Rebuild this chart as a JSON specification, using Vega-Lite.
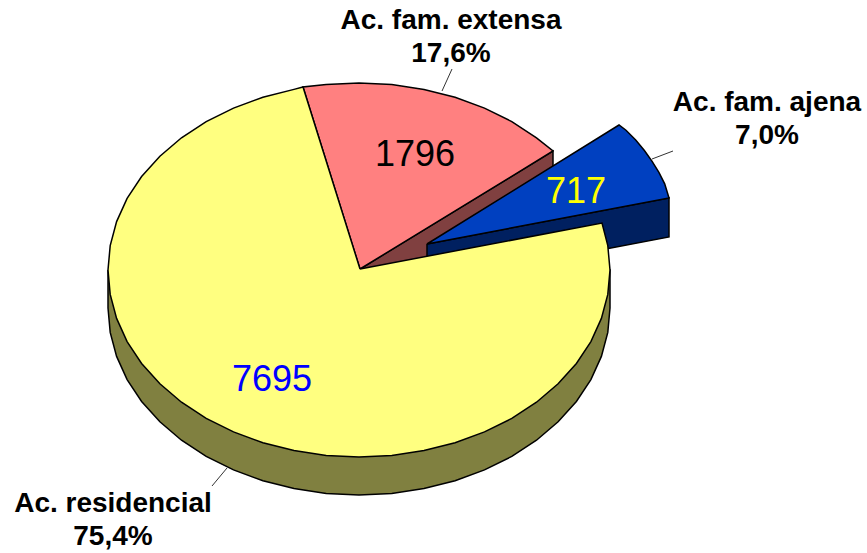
{"$schema":"https://vega.github.io/schema/vega-lite/v6.json","width":867,"height":553,"autosize":{"type":"none"},"padding":0,"background":"white","config":{"view":{"stroke":null}},
"datasets":{
"slices":[
{"category":"Ac. residencial","count":7695,"label":"Ac. residencial\n75,4%","cx":-87,"cy":-110,"lx":-246,"ly":-234},
{"category":"Ac. fam. extensa","count":1796,"label":"Ac. fam. extensa\n17,6%","cx":56,"cy":115,"lx":92,"ly":249},
{"category":"Ac. fam. ajena","count":717,"label":"Ac. fam. ajena\n7,0%","cx":217,"cy":78,"lx":408,"ly":167}],
"leaders":[
{"category":"Ac. fam. extensa","i":0,"x":83,"y":179},{"category":"Ac. fam. extensa","i":1,"x":93,"y":201},
{"category":"Ac. fam. ajena","i":0,"x":293,"y":111},{"category":"Ac. fam. ajena","i":1,"x":314,"y":119},
{"category":"Ac. residencial","i":0,"x":-132,"y":-198},{"category":"Ac. residencial","i":1,"x":-147,"y":-216}],
"faces":[
{"part":"extensa side","i":0,"x":1,"y":1},{"part":"extensa side","i":1,"x":194,"y":119},{"part":"extensa side","i":2,"x":194,"y":81},{"part":"extensa side","i":3,"x":1,"y":-37},{"part":"extensa side","i":4,"x":1,"y":1},
{"part":"ajena side","i":0,"x":68,"y":26},{"part":"ajena side","i":1,"x":310,"y":72},{"part":"ajena side","i":2,"x":310,"y":33},{"part":"ajena side","i":3,"x":68,"y":-13},{"part":"ajena side","i":4,"x":68,"y":26},
{"part":"ajena top","i":0,"x":68,"y":26},{"part":"ajena top","i":1,"x":260,"y":145},{"part":"ajena top","i":2,"x":267,"y":139.8},{"part":"ajena top","i":3,"x":276.7,"y":129.9},{"part":"ajena top","i":4,"x":285.4,"y":119.5},{"part":"ajena top","i":5,"x":293.1,"y":108.7},{"part":"ajena top","i":6,"x":299.9,"y":97.6},{"part":"ajena top","i":7,"x":305.7,"y":86.1},{"part":"ajena top","i":8,"x":310,"y":72},{"part":"ajena top","i":9,"x":68,"y":26},
{"part":"extensa top","i":0,"x":1,"y":1},{"part":"extensa top","i":1,"x":194,"y":119},{"part":"extensa top","i":2,"x":177.5,"y":132.2},{"part":"extensa top","i":3,"x":152.8,"y":148.4},{"part":"extensa top","i":4,"x":125.5,"y":161.9},{"part":"extensa top","i":5,"x":96.1,"y":172.8},{"part":"extensa top","i":6,"x":65,"y":180.6},{"part":"extensa top","i":7,"x":32.8,"y":185.4},{"part":"extensa top","i":8,"x":0,"y":187},{"part":"extensa top","i":9,"x":-32.8,"y":185.4},{"part":"extensa top","i":10,"x":-56,"y":183},{"part":"extensa top","i":11,"x":1,"y":1},
{"part":"residencial side","i":0,"x":-251,"y":0},{"part":"residencial side","i":1,"x":-251,"y":-38},{"part":"residencial side","i":2,"x":-248.8,"y":-62.4},{"part":"residencial side","i":3,"x":-242.4,"y":-86.4},{"part":"residencial side","i":4,"x":-231.9,"y":-109.6},{"part":"residencial side","i":5,"x":-217.4,"y":-131.5},{"part":"residencial side","i":6,"x":-199.1,"y":-151.8},{"part":"residencial side","i":7,"x":-177.5,"y":-170.2},{"part":"residencial side","i":8,"x":-152.8,"y":-186.4},{"part":"residencial side","i":9,"x":-125.5,"y":-199.9},{"part":"residencial side","i":10,"x":-96.1,"y":-210.8},{"part":"residencial side","i":11,"x":-65,"y":-218.6},{"part":"residencial side","i":12,"x":-32.8,"y":-223.4},{"part":"residencial side","i":13,"x":0,"y":-225},{"part":"residencial side","i":14,"x":32.8,"y":-223.4},{"part":"residencial side","i":15,"x":65,"y":-218.6},{"part":"residencial side","i":16,"x":96.1,"y":-210.8},{"part":"residencial side","i":17,"x":125.5,"y":-199.9},{"part":"residencial side","i":18,"x":152.8,"y":-186.4},{"part":"residencial side","i":19,"x":177.5,"y":-170.2},{"part":"residencial side","i":20,"x":199.1,"y":-151.8},{"part":"residencial side","i":21,"x":217.4,"y":-131.5},{"part":"residencial side","i":22,"x":231.9,"y":-109.6},{"part":"residencial side","i":23,"x":242.4,"y":-86.4},{"part":"residencial side","i":24,"x":248.8,"y":-62.4},{"part":"residencial side","i":25,"x":251,"y":-38},{"part":"residencial side","i":26,"x":251,"y":0},{"part":"residencial side","i":27,"x":-251,"y":0},
{"part":"residencial top","i":0,"x":1,"y":1},{"part":"residencial top","i":1,"x":-56,"y":183},{"part":"residencial top","i":2,"x":-65,"y":180.6},{"part":"residencial top","i":3,"x":-96.1,"y":172.8},{"part":"residencial top","i":4,"x":-125.5,"y":161.9},{"part":"residencial top","i":5,"x":-152.8,"y":148.4},{"part":"residencial top","i":6,"x":-177.5,"y":132.2},{"part":"residencial top","i":7,"x":-199.1,"y":113.8},{"part":"residencial top","i":8,"x":-217.4,"y":93.5},{"part":"residencial top","i":9,"x":-231.9,"y":71.6},{"part":"residencial top","i":10,"x":-242.4,"y":48.4},{"part":"residencial top","i":11,"x":-248.8,"y":24.4},{"part":"residencial top","i":12,"x":-251,"y":0},{"part":"residencial top","i":13,"x":-248.8,"y":-24.4},{"part":"residencial top","i":14,"x":-242.4,"y":-48.4},{"part":"residencial top","i":15,"x":-231.9,"y":-71.6},{"part":"residencial top","i":16,"x":-217.4,"y":-93.5},{"part":"residencial top","i":17,"x":-199.1,"y":-113.8},{"part":"residencial top","i":18,"x":-177.5,"y":-132.2},{"part":"residencial top","i":19,"x":-152.8,"y":-148.4},{"part":"residencial top","i":20,"x":-125.5,"y":-161.9},{"part":"residencial top","i":21,"x":-96.1,"y":-172.8},{"part":"residencial top","i":22,"x":-65,"y":-180.6},{"part":"residencial top","i":23,"x":-32.8,"y":-185.4},{"part":"residencial top","i":24,"x":0,"y":-187},{"part":"residencial top","i":25,"x":32.8,"y":-185.4},{"part":"residencial top","i":26,"x":65,"y":-180.6},{"part":"residencial top","i":27,"x":96.1,"y":-172.8},{"part":"residencial top","i":28,"x":125.5,"y":-161.9},{"part":"residencial top","i":29,"x":152.8,"y":-148.4},{"part":"residencial top","i":30,"x":177.5,"y":-132.2},{"part":"residencial top","i":31,"x":199.1,"y":-113.8},{"part":"residencial top","i":32,"x":217.4,"y":-93.5},{"part":"residencial top","i":33,"x":231.9,"y":-71.6},{"part":"residencial top","i":34,"x":242.4,"y":-48.4},{"part":"residencial top","i":35,"x":248.8,"y":-24.4},{"part":"residencial top","i":36,"x":251,"y":0},{"part":"residencial top","i":37,"x":248.8,"y":24.4},{"part":"residencial top","i":38,"x":243,"y":47},{"part":"residencial top","i":39,"x":1,"y":1}
]},
"layer":[
{"data":{"name":"leaders"},"mark":{"type":"line","stroke":"#333333","strokeWidth":1},"encoding":{"x":{"field":"x","type":"quantitative","scale":{"domain":[-359,508],"nice":false,"zero":false},"axis":null},"y":{"field":"y","type":"quantitative","scale":{"domain":[-283,270],"nice":false,"zero":false},"axis":null},"detail":{"field":"category"},"order":{"field":"i"}}},
{"data":{"name":"faces"},"mark":{"type":"line","stroke":"black","strokeWidth":1.5,"strokeJoin":"miter"},"encoding":{"x":{"field":"x","type":"quantitative","scale":{"domain":[-359,508],"nice":false,"zero":false},"axis":null},"y":{"field":"y","type":"quantitative","scale":{"domain":[-283,270],"nice":false,"zero":false},"axis":null},"fill":{"field":"part","type":"nominal","legend":null,"scale":{"domain":["extensa side","ajena side","ajena top","extensa top","residencial side","residencial top"],"range":["#804040","#002060","#0040C0","#FF8080","#808040","#FFFF80"]}},"detail":{"field":"part"},"order":{"field":"i"}}},
{"data":{"name":"slices"},"mark":{"type":"text","font":"Liberation Sans","fontSize":36,"align":"center","baseline":"middle"},"encoding":{"x":{"field":"cx","type":"quantitative","scale":{"domain":[-359,508],"nice":false,"zero":false},"axis":null},"y":{"field":"cy","type":"quantitative","scale":{"domain":[-283,270],"nice":false,"zero":false},"axis":null},"text":{"field":"count","type":"nominal"},"color":{"field":"category","type":"nominal","legend":null,"scale":{"domain":["Ac. residencial","Ac. fam. extensa","Ac. fam. ajena"],"range":["#0000FF","#000000","#FFFF00"]}}}},
{"data":{"name":"slices"},"mark":{"type":"text","font":"Liberation Sans","fontWeight":"bold","fontSize":28,"align":"center","baseline":"middle","lineBreak":"\n","lineHeight":33,"color":"black"},"encoding":{"x":{"field":"lx","type":"quantitative","scale":{"domain":[-359,508],"nice":false,"zero":false},"axis":null},"y":{"field":"ly","type":"quantitative","scale":{"domain":[-283,270],"nice":false,"zero":false},"axis":null},"text":{"field":"label","type":"nominal"}}}
]}
